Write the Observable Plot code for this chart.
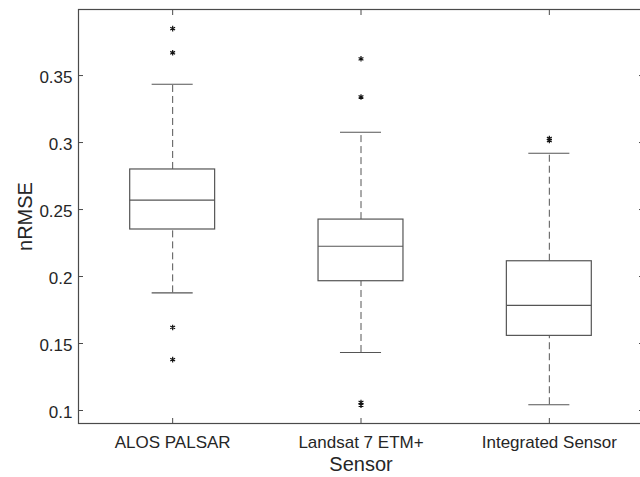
<!DOCTYPE html>
<html>
<head>
<meta charset="utf-8">
<script src="https://cdn.jsdelivr.net/npm/d3@7"></script>
<script src="https://cdn.jsdelivr.net/npm/@observablehq/plot@0.6"></script>
<style>
  html, body { margin: 0; padding: 0; background: #fff; }
  #chart svg { display: block; }
</style>
</head>
<body>
<div id="chart"></div>
<script>
const categories = ["ALOS PALSAR", "Landsat 7 ETM+", "Integrated Sensor"];
const whiskerLow  = [0.1878, 0.1433, 0.1043];
const q1          = [0.2351, 0.1965, 0.1557];
const median      = [0.2570, 0.2226, 0.1784];
const q3          = [0.2799, 0.2425, 0.2114];
const whiskerHigh = [0.3435, 0.3077, 0.2920];
const outlierSensor = ["ALOS PALSAR", "ALOS PALSAR", "ALOS PALSAR", "ALOS PALSAR",
                       "Landsat 7 ETM+", "Landsat 7 ETM+", "Landsat 7 ETM+", "Landsat 7 ETM+",
                       "Integrated Sensor", "Integrated Sensor"];
const outlierValue  = [0.385, 0.367, 0.162, 0.138,
                       0.3625, 0.334, 0.106, 0.104,
                       0.303, 0.3015];
const yTicks = [0.1, 0.15, 0.2, 0.25, 0.3, 0.35];

const boxHalf = 0.2255, capHalf = 0.109;
const boxes = categories.map((c, i) => ({
  c, i: i + 1, lo: whiskerLow[i], q1: q1[i], med: median[i], q3: q3[i], hi: whiskerHigh[i]
}));
const outliers = outlierSensor.map((c, k) => ({ i: categories.indexOf(c) + 1, v: outlierValue[k] }));

const axisColor = "#4a4a4a";
const boxColor = "#555";
const textColor = "#262626";

const chart = Plot.plot({
  width: 640,
  height: 477,
  marginLeft: 78,
  marginRight: -3,
  marginTop: 9,
  marginBottom: 54,
  style: { fontFamily: "'Liberation Sans', Arial, sans-serif", fontSize: "17px", color: textColor, background: "#fff" },
  x: { type: "linear", domain: [0.5, 3.5] },
  y: { domain: [0.0903, 0.3993] },
  marks: [
    // whiskers (dashed)
    Plot.ruleX(boxes, { x: "i", y1: "q3", y2: "hi", stroke: boxColor, strokeDasharray: "7,4", strokeWidth: 1 }),
    Plot.ruleX(boxes, { x: "i", y1: "lo", y2: "q1", stroke: boxColor, strokeDasharray: "7,4", strokeWidth: 1 }),
    // caps
    Plot.ruleY(boxes, { y: "hi", x1: d => d.i - capHalf, x2: d => d.i + capHalf, stroke: boxColor, strokeWidth: 1.2 }),
    Plot.ruleY(boxes, { y: "lo", x1: d => d.i - capHalf, x2: d => d.i + capHalf, stroke: boxColor, strokeWidth: 1.2 }),
    // boxes
    Plot.rect(boxes, { x1: d => d.i - boxHalf, x2: d => d.i + boxHalf, y1: "q1", y2: "q3", fill: "white", stroke: boxColor, strokeWidth: 1.2 }),
    // medians
    Plot.ruleY(boxes, { y: "med", x1: d => d.i - boxHalf, x2: d => d.i + boxHalf, stroke: boxColor, strokeWidth: 1.2 }),
    // outliers
    Plot.dot(outliers, { x: "i", y: "v", symbol: "asterisk", r: 2.6, stroke: "#111", strokeWidth: 1.2 }),
    // frame
    Plot.frame({ stroke: axisColor, strokeWidth: 1.2 }),
    // inward ticks
    Plot.axisY(yTicks, { anchor: "left", tickSize: -5, text: null, stroke: axisColor, label: null }),
    Plot.axisY(yTicks, { anchor: "right", tickSize: -5, text: null, stroke: axisColor, label: null }),
    Plot.axisX([1, 2, 3], { anchor: "bottom", tickSize: -5, text: null, stroke: axisColor, label: null }),
    Plot.axisX([1, 2, 3], { anchor: "top", tickSize: -5, text: null, stroke: axisColor, label: null }),
    // tick labels
    Plot.axisY(yTicks, { anchor: "left", tickSize: 0, tickPadding: 6, dy: 2, tickFormat: d => String(d), label: null, fontSize: 17, fill: textColor }),
    Plot.axisX([1, 2, 3], { anchor: "bottom", tickSize: 0, tickPadding: 12, tickFormat: d => categories[d - 1], label: null, fontSize: 17, fill: textColor }),
    // axis titles
    Plot.text(["Sensor"], { frameAnchor: "bottom", lineAnchor: "middle", textAnchor: "middle", dy: 41, text: d => d, fontSize: 20, fill: textColor }),
    Plot.text(["nRMSE"], { frameAnchor: "left", lineAnchor: "middle", textAnchor: "middle", dx: -53, rotate: -90, text: d => d, fontSize: 20, fill: textColor })
  ]
});
document.getElementById("chart").appendChild(chart);
</script>
</body>
</html>
